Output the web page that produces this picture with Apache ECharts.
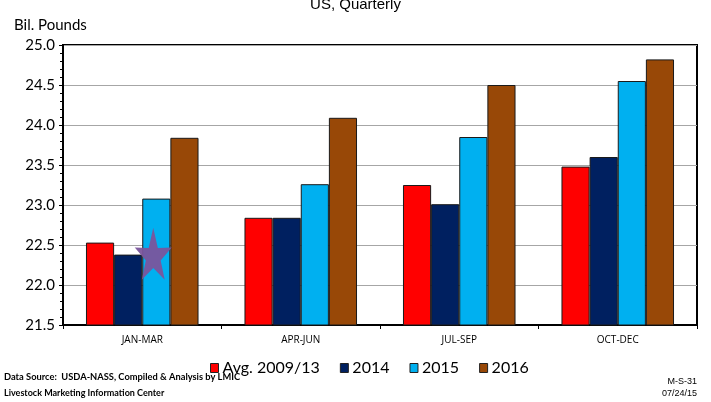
<!DOCTYPE html>
<html><head><meta charset="utf-8">
<script src="https://cdn.jsdelivr.net/npm/echarts@6/dist/echarts.min.js"></script>
<style>html,body{margin:0;padding:0;background:#fff}#c{width:711px;height:402px}</style>
</head><body><div id="c"></div>
<script>
const categories = ['JAN-MAR', 'APR-JUN', 'JUL-SEP', 'OCT-DEC'];
const seriesNames = ['Avg. 2009/13', '2014', '2015', '2016'];
const avg0913 = [22.53, 22.84, 23.25, 23.48];
const y2014 = [22.38, 22.84, 23.01, 23.60];
const y2015 = [23.08, 23.26, 23.85, 24.55];
const y2016 = [23.84, 24.09, 24.50, 24.82];
const starPoint = [['JAN-MAR', 22.39]];
const colors = ['#FF0000', '#002060', '#00B0F0', '#984807'];
const values = [avg0913, y2014, y2015, y2016];

const chart = echarts.init(document.getElementById('c'), null, {renderer: 'canvas'});
const cal = 'Lato, "Open Sans", sans-serif';
const barSeries = seriesNames.map((n, i) => ({
  name: n, type: 'bar', data: values[i], barGap: '0%', barCategoryGap: '29%',
  itemStyle: {color: colors[i], borderColor: '#1a1a1a', borderWidth: 1},
  emphasis: {disabled: true}
}));
barSeries.push({
  type: 'scatter', data: starPoint, symbol: 'path://M50,0 L61.8,35.1 L97.6,34.5 L69.1,56.9 L79.4,90.5 L50,70 L20.6,90.5 L30.9,56.9 L2.4,34.5 L38.2,35.1 Z',
  symbolSize: [37, 52], symbolOffset: [11, 0], z: 5,
  itemStyle: {color: '#7A559C', opacity: 0.95}, silent: true
});
chart.setOption({
  animation: false,
  title: {text: 'US, Quarterly', left: 'center', top: -8,
    textStyle: {fontFamily: '"Liberation Sans", Arial, sans-serif', fontSize: 15, fontWeight: 'normal', color: '#000'}},
  grid: {left: 63, right: 14, top: 45, bottom: 77, show: true, borderColor: '#000', borderWidth: 2},
  legend: {
    data: seriesNames, top: 355, left: 205, itemWidth: 8, itemHeight: 9, itemGap: 20,
    icon: 'rect', selectedMode: false,
    itemStyle: {borderColor: '#222', borderWidth: 1},
    textStyle: {fontFamily: cal, fontSize: 16, color: '#000', padding: [0, 0, 0, -1]}
  },
  xAxis: {
    type: 'category', data: categories,
    axisLine: {lineStyle: {color: '#000', width: 2}},
    axisTick: {show: true, length: 4, lineStyle: {color: '#000'}},
    axisLabel: {fontFamily: '"Open Sans", sans-serif', fontSize: 10, color: '#000', margin: 10}
  },
  yAxis: {
    type: 'value', min: 21.5, max: 25.0, interval: 0.5,
    name: 'Bil. Pounds', nameLocation: 'end', nameGap: 12,
    nameTextStyle: {fontFamily: cal, fontSize: 15, color: '#000', align: 'left', padding: [0, 0, 0, -49]},
    axisLine: {show: true, lineStyle: {color: '#000', width: 2}},
    axisTick: {show: true, length: 4, lineStyle: {color: '#000'}},
    minorTick: {show: true, splitNumber: 5, length: 3, lineStyle: {color: '#000'}},
    splitLine: {lineStyle: {color: '#a6a6a6', width: 1}},
    axisLabel: {fontFamily: cal, fontSize: 15, color: '#000', margin: 8, formatter: v => v.toFixed(1)}
  },
  graphic: [
    {type: 'text', left: 4, top: 372, style: {text: 'Data Source:  USDA-NASS, Compiled & Analysis by LMIC', font: 'bold 9.3px ' + cal, fill: '#000'}},
    {type: 'text', left: 4, top: 389, style: {text: 'Livestock Marketing Information Center', font: 'bold 9px ' + cal, fill: '#000'}},
    {type: 'text', right: 14, top: 377, style: {text: 'M-S-31', font: '9px "Liberation Sans", Arial, sans-serif', fill: '#000', align: 'right'}},
    {type: 'text', right: 14, top: 389, style: {text: '07/24/15', font: '9px "Liberation Sans", Arial, sans-serif', fill: '#000', align: 'right'}}
  ],
  series: barSeries
});
</script></body></html>
